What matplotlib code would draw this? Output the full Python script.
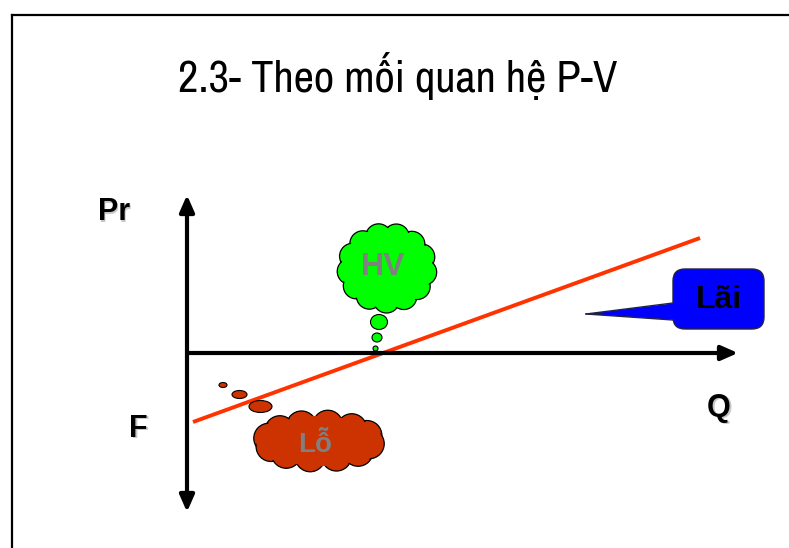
import numpy as np
import matplotlib
matplotlib.use('Agg')
import matplotlib.pyplot as plt
from matplotlib.patches import Circle, Ellipse, FancyBboxPatch, Polygon
from matplotlib.lines import Line2D

# --- data (origin = where the two axes cross, units ~ pixels) ---
title = '2.3- Theo mối quan hệ P-V'
axis_q_end = 551          # horizontal arrow tip
axis_pr_top = 158         # upper arrow tip
axis_pr_bottom = -159     # lower arrow tip
line_q = [6, 513]         # red profit line
line_pr = [-69, 115]

labels = ['Pr', 'F', 'Q']
label_x = [-73, -48.5, 532]
label_y = [133, -84, -63]   # baselines

hv_cloud = (200, 85, 50, 45)      # cx, cy, rx, ry
hv_bubbles_x = [192, 190, 188.5]
hv_bubbles_y = [31, 15.5, 4.5]
hv_bubbles_w = [17, 10, 5]
hv_bubbles_h = [15, 9, 5]

lo_cloud = (132, -88, 66, 31)
lo_bubbles_x = [73.5, 52.5, 36]
lo_bubbles_y = [-53.5, -41.5, -32]
lo_bubbles_w = [23, 15, 8]
lo_bubbles_h = [12, 8, 5]

lai_box = (486, 24, 91, 60)       # x, y, w, h
lai_tip = (399, 39)
lai_base = [50, 33]

bold = ['Liberation Sans', 'DejaVu Sans']

fig = plt.figure(figsize=(7.89, 5.48), dpi=100)
ax = fig.add_axes([0, 0, 1, 1])
ax.set_xlim(-187, 602)
ax.set_ylim(-195, 353)
ax.axis('off')

# slide border
fig.add_artist(Line2D([12/789, 12/789], [-0.1, 1 - 15/548], color='black', lw=1.6))
fig.add_artist(Line2D([12/789, 1.1], [1 - 15/548, 1 - 15/548], color='black', lw=1.6))

ax.text(211, 261, title, ha='center', va='baseline', fontsize=32,
        family=['Archivo Narrow', 'DejaVu Sans'])

# axes arrows
ax.annotate('', xy=(0, axis_pr_top), xytext=(0, axis_pr_bottom),
            arrowprops=dict(arrowstyle='<|-|>,head_length=0.5,head_width=0.22', lw=3,
                            color='black', mutation_scale=20, shrinkA=0, shrinkB=0))
ax.annotate('', xy=(axis_q_end, 0), xytext=(0, 0),
            arrowprops=dict(arrowstyle='-|>,head_length=0.5,head_width=0.22', lw=3,
                            color='black', mutation_scale=20, shrinkA=0, shrinkB=0))

ax.plot(line_q, line_pr, color='#FF3300', lw=2.8, solid_capstyle='butt', zorder=2)

for s, x, y in zip(labels, label_x, label_y):
    # light shadow, then the label
    ax.text(x + 1.5, y - 1.5, s, ha='center', va='baseline', fontsize=22, fontweight='bold',
            family=bold, color='#c8c8c8')
    ax.text(x, y, s, ha='center', va='baseline', fontsize=22, fontweight='bold', family=bold)


def cloud(cx, cy, rx, ry, color, r, step):
    ex, ey = rx - r, ry - r
    perim = 2 * np.pi * np.sqrt((ex**2 + ey**2) / 2)
    n = max(int(perim / (step * r)), 7)
    t = np.linspace(0, 2 * np.pi, n, endpoint=False) + 0.35
    xs = cx + ex * np.cos(t)
    ys = cy + ey * np.sin(t)
    for x, y in zip(xs, ys):
        ax.add_patch(Circle((x, y), r, fc=color, ec='black', lw=0.9, zorder=3))
    for x, y in zip(xs, ys):
        ax.add_patch(Circle((x, y), r - 1.3, fc=color, ec='none', zorder=3.1))
    ax.add_patch(Ellipse((cx, cy), 2 * (ex + 0.6 * r), 2 * (ey + 0.6 * r), fc=color, ec='none', zorder=3.1))


def bubbles(xs, ys, ws, hs, color):
    for x, y, w, h in zip(xs, ys, ws, hs):
        ax.add_patch(Ellipse((x, y), w, h, fc=color, ec='black', lw=0.8, zorder=3))


cloud(*hv_cloud, '#00FF00', 13, 1.2)
bubbles(hv_bubbles_x, hv_bubbles_y, hv_bubbles_w, hv_bubbles_h, '#00FF00')
ax.text(196, 78, 'HV', ha='center', va='baseline', fontsize=23, fontweight='bold',
        color='#808080', family=bold, zorder=4)

cloud(*lo_cloud, '#CC3300', 15, 1.3)
bubbles(lo_bubbles_x, lo_bubbles_y, lo_bubbles_w, lo_bubbles_h, '#CC3300')
ax.text(128, -99, 'Lỗ', ha='center', va='baseline', fontsize=20, fontweight='bold',
        color='#808080', family=bold, zorder=4)

# Lãi callout
bx, by, bw, bh = lai_box
ax.add_patch(FancyBboxPatch((bx, by), bw, bh, boxstyle='round,pad=0,rounding_size=12',
                            fc='#0000FF', ec='#222244', lw=1, zorder=3))
ax.add_patch(Polygon([lai_tip, (bx + 3, lai_base[0]), (bx + 3, lai_base[1])],
                     closed=True, fc='#0000FF', ec='none', zorder=3.1))
ax.plot([lai_tip[0], bx], [lai_tip[1], lai_base[0]], color='#222244', lw=1, zorder=3.2)
ax.plot([lai_tip[0], bx], [lai_tip[1], lai_base[1]], color='#222244', lw=1, zorder=3.2)
ax.text(bx + bw / 2, 45, 'Lãi', ha='center', va='baseline', fontsize=23, fontweight='bold',
        color='black', family=bold, zorder=4)

fig.savefig('out.png', dpi=100)
